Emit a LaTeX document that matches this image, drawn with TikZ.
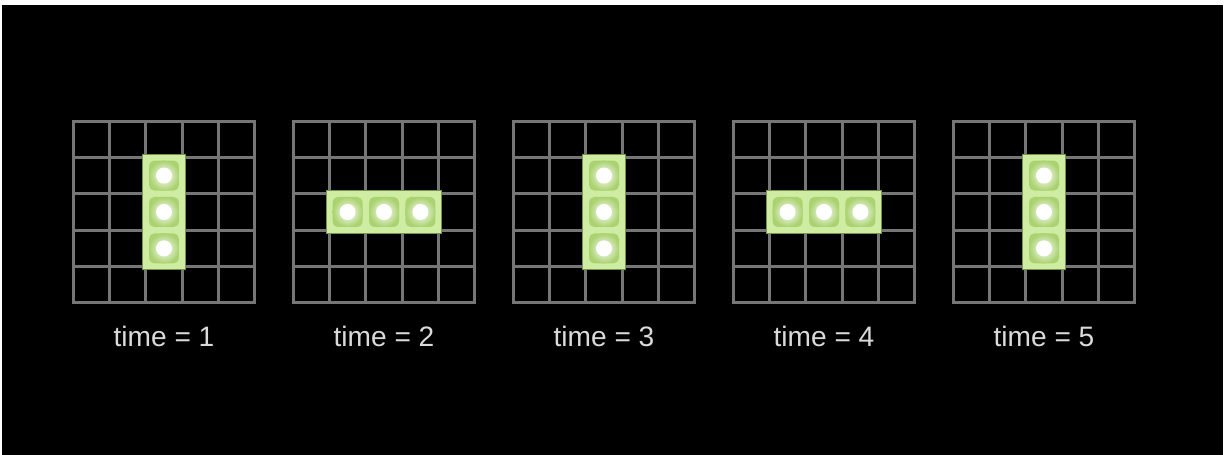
\documentclass[tikz,border=0pt]{standalone}
\usepackage{fontspec}
\setmainfont{Liberation Sans}
\usepackage{tikz}
\usetikzlibrary{positioning,calc}
\definecolor{gridgrey}{RGB}{118,118,118}
\definecolor{limepale}{RGB}{206,236,162}
\definecolor{limedeep}{RGB}{170,210,112}
\definecolor{labelgrey}{RGB}{218,218,218}

\begin{document}
\begin{tikzpicture}[x=0.02cm,y=-0.02cm,
      panel/.style={draw=gridgrey,line width=0.06cm,minimum size=3.64cm,
                    inner sep=0pt,outer sep=0pt},
      gridline/.style={draw=gridgrey,line width=0.06cm},
      vbar/.style={fill=limepale,draw=limedeep!70!black,line width=0.02cm,
                   minimum width=0.86cm,minimum height=2.32cm,inner sep=0pt},
      hbar/.style={vbar,minimum width=2.32cm,minimum height=0.86cm},
      litcell/.style={fill=limedeep,rounded corners=3pt,minimum size=0.6cm,inner sep=0pt},
      glow/.style={circle,shading=radial,inner color=white,outer color=limedeep,
                   minimum size=0.6cm,inner sep=0pt},
      core/.style={circle,fill=white,minimum size=0.32cm,inner sep=0pt},
      tlabel/.style={text=labelgrey,font=\fontsize{16}{19}\selectfont,inner sep=0pt}]

    \fill[white] (0,0) rectangle (1225,455);
    \useasboundingbox (0,0) rectangle (1225,455);
    \fill[black] (2,5) rectangle (1223,455);

    \node[panel] (g1) at (164,212) {};
    \node[panel] (g2) at (384,212) {};
    \node[panel] (g3) at (604,212) {};
    \node[panel] (g4) at (824,212) {};
    \node[panel] (g5) at (1044,212) {};

    \foreach \g in {1,...,5}{
      \foreach \i in {1,...,4}{
        \draw[gridline] ($(g\g.north west)!\i/5!(g\g.north east)$) --
                        ($(g\g.south west)!\i/5!(g\g.south east)$);
        \draw[gridline] ($(g\g.north west)!\i/5!(g\g.south west)$) --
                        ($(g\g.north east)!\i/5!(g\g.south east)$);
      }
    }

    \node[vbar] (b1) at (g1.center) {};
    \node[hbar] (b2) at (g2.center) {};
    \node[vbar] (b3) at (g3.center) {};
    \node[hbar] (b4) at (g4.center) {};
    \node[vbar] (b5) at (g5.center) {};

    \foreach \g/\dx/\dy in {1/0/36.4,2/36.4/0,3/0/36.4,4/36.4/0,5/0/36.4}{
      \foreach \s/\n in {-1/a,0/b,1/c}{
        \node[litcell] (c\g\n) at ($(b\g.center)+(\s*\dx,\s*\dy)$) {};
        \node[glow] (d\g\n) at (c\g\n) {};
        \node[core] (e\g\n) at (c\g\n) {};
      }
    }

    \node[tlabel,below=0.46cm of g1] (t1) {time = 1};
    \node[tlabel,below=0.46cm of g2] (t2) {time = 2};
    \node[tlabel,below=0.46cm of g3] (t3) {time = 3};
    \node[tlabel,below=0.46cm of g4] (t4) {time = 4};
    \node[tlabel,below=0.46cm of g5] (t5) {time = 5};
  \end{tikzpicture}
\end{document}
